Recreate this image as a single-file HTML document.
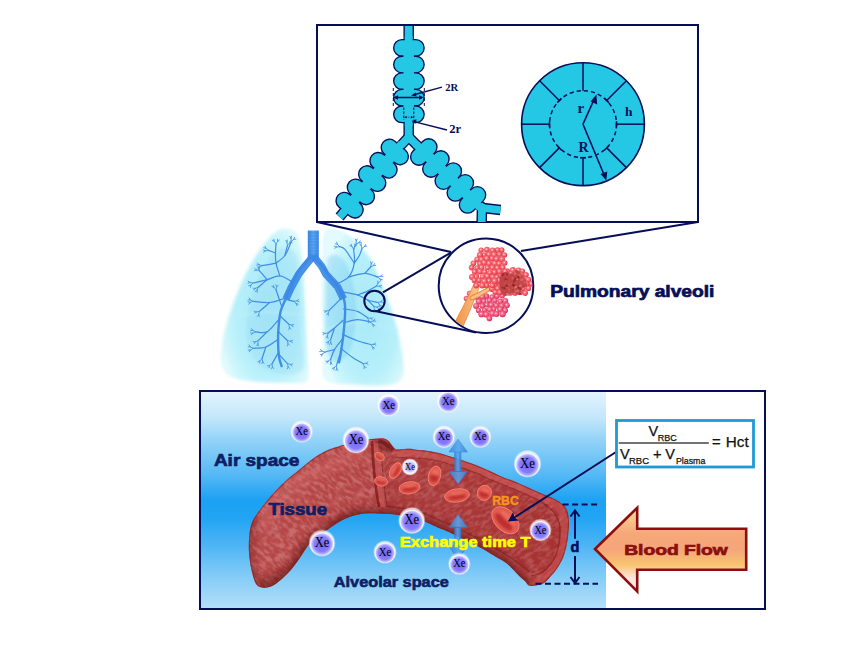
<!DOCTYPE html>
<html><head><meta charset="utf-8"><style>
html,body{margin:0;padding:0;background:#fff;overflow:hidden;}
svg{display:block;}
</style></head><body>
<svg width="865" height="649" viewBox="0 0 865 649">
<defs>
<linearGradient id="bg" x1="0" y1="392" x2="0" y2="608" gradientUnits="userSpaceOnUse">
<stop offset="0" stop-color="#e2f4fe"/>
<stop offset="0.12" stop-color="#c2e7fb"/>
<stop offset="0.22" stop-color="#94d3f8"/>
<stop offset="0.38" stop-color="#56b9f5"/>
<stop offset="0.5" stop-color="#1ca2f3"/>
<stop offset="0.58" stop-color="#20a4f3"/>
<stop offset="0.7" stop-color="#4ab3f4"/>
<stop offset="0.85" stop-color="#82cbf7"/>
<stop offset="1" stop-color="#b2dffa"/>
</linearGradient>
<radialGradient id="lungfill" cx="0.55" cy="0.55" r="0.6">
<stop offset="0" stop-color="#a8e8f8"/><stop offset="0.65" stop-color="#b6f0fa"/><stop offset="0.9" stop-color="#cff6fc"/><stop offset="1" stop-color="#e4fbfe"/>
</radialGradient>
<linearGradient id="trach" x1="0" x2="1"><stop offset="0" stop-color="#3a86e6"/><stop offset="0.5" stop-color="#5aa6f0"/><stop offset="1" stop-color="#3a86e6"/></linearGradient>
<filter id="vblur" x="-20%" y="-20%" width="140%" height="140%"><feGaussianBlur stdDeviation="3.5"/></filter>
<filter id="rblur" x="-50%" y="-50%" width="200%" height="200%"><feGaussianBlur stdDeviation="0.9"/></filter>
<filter id="lblur" x="-10%" y="-10%" width="120%" height="120%"><feGaussianBlur stdDeviation="1.8"/></filter>
<radialGradient id="alvA" cx="0.42" cy="0.4" r="0.62"><stop offset="0" stop-color="#ffdcdc"/><stop offset="0.33" stop-color="#f87880"/><stop offset="0.72" stop-color="#ee4c5a"/><stop offset="1" stop-color="#d63444"/></radialGradient>
<radialGradient id="alvB" cx="0.42" cy="0.4" r="0.62"><stop offset="0" stop-color="#ffd6e2"/><stop offset="0.33" stop-color="#f47290"/><stop offset="0.72" stop-color="#e9466e"/><stop offset="1" stop-color="#d02e56"/></radialGradient>
<linearGradient id="vessel" x1="250" y1="0" x2="570" y2="0" gradientUnits="userSpaceOnUse">
<stop offset="0" stop-color="#b84848"/><stop offset="0.35" stop-color="#b44242"/><stop offset="1" stop-color="#ae3434"/></linearGradient>
<filter id="tex" x="0" y="0" width="100%" height="100%"><feTurbulence type="fractalNoise" baseFrequency="0.14 0.3" numOctaves="3" seed="4"/><feColorMatrix type="matrix" values="0 0 0 0 1  0 0 0 0 0.78  0 0 0 0 0.78  0 0 0 -3.5 2.1"/><feComposite in2="SourceGraphic" operator="in"/></filter>
<filter id="tex2" x="0" y="0" width="100%" height="100%"><feTurbulence type="fractalNoise" baseFrequency="0.06 0.14" numOctaves="2" seed="11"/><feColorMatrix type="matrix" values="0 0 0 0 0.45  0 0 0 0 0.08  0 0 0 0 0.08  0 0 0 -3.5 2.0"/><feComposite in2="SourceGraphic" operator="in"/></filter>
<linearGradient id="stemg" x1="0" y1="0" x2="1" y2="0"><stop offset="0" stop-color="#f09040"/><stop offset="0.6" stop-color="#f8b070"/><stop offset="1" stop-color="#fcd0a0"/></linearGradient>
<radialGradient id="rbc" cx="0.45" cy="0.4" r="0.65"><stop offset="0" stop-color="#e2463f"/><stop offset="0.7" stop-color="#ee645a"/><stop offset="1" stop-color="#f58a80"/></radialGradient>
<radialGradient id="xe" cx="0.5" cy="0.55" r="0.5"><stop offset="0" stop-color="#7064fa"/><stop offset="0.6" stop-color="#887efb"/><stop offset="0.8" stop-color="#bfb8ff"/><stop offset="0.91" stop-color="#fbf8ff"/><stop offset="1" stop-color="#ffffff" stop-opacity="0.6"/></radialGradient>
<radialGradient id="xew" cx="0.5" cy="0.5" r="0.5"><stop offset="0" stop-color="#a198f6"/><stop offset="0.5" stop-color="#bab3fa"/><stop offset="0.78" stop-color="#f2f0ff"/><stop offset="1" stop-color="#ffffff" stop-opacity="0.85"/></radialGradient>
<linearGradient id="barr" x1="0" x2="1"><stop offset="0" stop-color="#2a78d4"/><stop offset="0.5" stop-color="#5aa8ee"/><stop offset="1" stop-color="#2a78d4"/></linearGradient>
<linearGradient id="barrh" x1="0" x2="1"><stop offset="0" stop-color="#3284dc"/><stop offset="0.5" stop-color="#5aa6ec"/><stop offset="1" stop-color="#3284dc"/></linearGradient>
<linearGradient id="bflow" x1="0" y1="508" x2="0" y2="591" gradientUnits="userSpaceOnUse">
<stop offset="0" stop-color="#fbe0a0"/><stop offset="0.3" stop-color="#f6a878"/><stop offset="0.5" stop-color="#f5a57a"/><stop offset="0.68" stop-color="#f8c470"/><stop offset="0.85" stop-color="#fbe6e0"/><stop offset="1" stop-color="#fce8f2"/></linearGradient>
</defs>
<rect width="865" height="649" fill="#fff"/>
<rect x="317" y="25" width="381" height="197" fill="#fff" stroke="#060e58" stroke-width="2"/>
<path d="M408.7,26.0 L408.7,137.0" fill="none" stroke="#060e58" stroke-width="10.5"/>
<path d="M408.7,137.0 L394.8,152.0 L383.5,165.3 L372.2,178.6 L360.9,191.9 L349.6,205.2 L339.6,217.0" fill="none" stroke="#060e58" stroke-width="10.5"/>
<path d="M408.7,137.0 L423.8,152.0 L435.9,164.0 L448.3,176.1 L460.3,187.9 L472.5,199.9 L483.0,208.0" fill="none" stroke="#060e58" stroke-width="10.5"/>
<path d="M483.0,208.0 L500.5,210.0" fill="none" stroke="#060e58" stroke-width="10.5"/>
<path d="M482.0,207.0 L481.7,222.0" fill="none" stroke="#060e58" stroke-width="10.5"/>
<path d="M408.7,26.0 L408.7,137.0" fill="none" stroke="#24c8e4" stroke-width="7.8"/>
<path d="M408.7,137.0 L394.8,152.0 L383.5,165.3 L372.2,178.6 L360.9,191.9 L349.6,205.2 L339.6,217.0" fill="none" stroke="#24c8e4" stroke-width="7.8"/>
<path d="M408.7,137.0 L423.8,152.0 L435.9,164.0 L448.3,176.1 L460.3,187.9 L472.5,199.9 L483.0,208.0" fill="none" stroke="#24c8e4" stroke-width="7.8"/>
<path d="M483.0,208.0 L500.5,210.0" fill="none" stroke="#24c8e4" stroke-width="7.8"/>
<path d="M482.0,207.0 L481.7,222.0" fill="none" stroke="#24c8e4" stroke-width="7.8"/>
<rect x="-15.25" y="-8.3" width="30.5" height="16.6" rx="8.3" fill="#24c8e4" stroke="#060e58" stroke-width="1.35" transform="translate(408.9,47.900000000000006) rotate(0)"/>
<rect x="-15.25" y="-8.3" width="30.5" height="16.6" rx="8.3" fill="#24c8e4" stroke="#060e58" stroke-width="1.35" transform="translate(408.9,64.5) rotate(0)"/>
<rect x="-15.25" y="-8.3" width="30.5" height="16.6" rx="8.3" fill="#24c8e4" stroke="#060e58" stroke-width="1.35" transform="translate(408.9,81.10000000000001) rotate(0)"/>
<rect x="-15.25" y="-8.3" width="30.5" height="16.6" rx="8.3" fill="#24c8e4" stroke="#060e58" stroke-width="1.35" transform="translate(408.9,97.7) rotate(0)"/>
<rect x="-15.25" y="-8.3" width="30.5" height="16.6" rx="8.3" fill="#24c8e4" stroke="#060e58" stroke-width="1.35" transform="translate(408.9,114.3) rotate(0)"/>
<rect x="-15.25" y="-8.3" width="30.5" height="16.6" rx="8.3" fill="#24c8e4" stroke="#060e58" stroke-width="1.35" transform="translate(394.8,152) rotate(40.4)"/>
<rect x="-15.25" y="-8.3" width="30.5" height="16.6" rx="8.3" fill="#24c8e4" stroke="#060e58" stroke-width="1.35" transform="translate(383.5,165.3) rotate(40.4)"/>
<rect x="-15.25" y="-8.3" width="30.5" height="16.6" rx="8.3" fill="#24c8e4" stroke="#060e58" stroke-width="1.35" transform="translate(372.2,178.6) rotate(40.4)"/>
<rect x="-15.25" y="-8.3" width="30.5" height="16.6" rx="8.3" fill="#24c8e4" stroke="#060e58" stroke-width="1.35" transform="translate(360.9,191.9) rotate(40.4)"/>
<rect x="-15.25" y="-8.3" width="30.5" height="16.6" rx="8.3" fill="#24c8e4" stroke="#060e58" stroke-width="1.35" transform="translate(349.6,205.2) rotate(40.4)"/>
<rect x="-15.25" y="-8.3" width="30.5" height="16.6" rx="8.3" fill="#24c8e4" stroke="#060e58" stroke-width="1.35" transform="translate(423.8,152) rotate(-45)"/>
<rect x="-15.25" y="-8.3" width="30.5" height="16.6" rx="8.3" fill="#24c8e4" stroke="#060e58" stroke-width="1.35" transform="translate(435.9,164) rotate(-45)"/>
<rect x="-15.25" y="-8.3" width="30.5" height="16.6" rx="8.3" fill="#24c8e4" stroke="#060e58" stroke-width="1.35" transform="translate(448.3,176.1) rotate(-45)"/>
<rect x="-15.25" y="-8.3" width="30.5" height="16.6" rx="8.3" fill="#24c8e4" stroke="#060e58" stroke-width="1.35" transform="translate(460.3,187.9) rotate(-45)"/>
<rect x="-15.25" y="-8.3" width="30.5" height="16.6" rx="8.3" fill="#24c8e4" stroke="#060e58" stroke-width="1.35" transform="translate(472.5,199.9) rotate(-45)"/>
<path d="M408.7,41.5 L408.7,120.8" stroke="#24c8e4" stroke-width="10.5" fill="none"/>
<path d="M408.7,36 L408.7,126" stroke="#24c8e4" stroke-width="7.8" fill="none"/>
<path d="M390.6,157.0 L383.5,165.3 L372.2,178.6 L360.9,191.9 L353.8,200.2" stroke="#24c8e4" stroke-width="10.5" fill="none"/>
<path d="M401.9,143.6 L383.5,165.3 L372.2,178.6 L360.9,191.9 L342.5,213.6" stroke="#24c8e4" stroke-width="7.8" fill="none"/>
<path d="M428.4,156.6 L435.9,164.0 L448.3,176.1 L460.3,187.9 L467.9,195.3" stroke="#24c8e4" stroke-width="10.5" fill="none"/>
<path d="M416.0,144.3 L435.9,164.0 L448.3,176.1 L460.3,187.9 L480.3,207.6" stroke="#24c8e4" stroke-width="7.8" fill="none"/>
<line x1="393.3" y1="88" x2="393.3" y2="108" stroke="#060e58" stroke-width="1" stroke-dasharray="3 2"/>
<line x1="424.3" y1="88" x2="424.3" y2="108" stroke="#060e58" stroke-width="1" stroke-dasharray="3 2"/>
<line x1="395" y1="97.5" x2="422" y2="97.5" stroke="#060e58" stroke-width="1.5"/>
<path d="M393.5,97.5 L398,95.3 L398,99.7Z M423.5,97.5 L419,95.3 L419,99.7Z" fill="#060e58"/>
<line x1="403.8" y1="107.5" x2="403.8" y2="120" stroke="#060e58" stroke-width="1" stroke-dasharray="2.5 1.5"/>
<line x1="413.8" y1="107.5" x2="413.8" y2="120" stroke="#060e58" stroke-width="1" stroke-dasharray="2.5 1.5"/>
<line x1="406" y1="117.2" x2="411.5" y2="117.2" stroke="#060e58" stroke-width="0.7" stroke-dasharray="1.2 1"/>
<path d="M404.3,117.2 L406.6,115.9 L406.6,118.5Z M413.3,117.2 L411,115.9 L411,118.5Z" fill="#060e58"/>
<line x1="442" y1="87.2" x2="413" y2="95" stroke="#060e58" stroke-width="1.3"/>
<path d="M411,95.6 L415.8,92.6 L416.6,96.4Z" fill="#060e58"/>
<line x1="447" y1="130" x2="414" y2="121.6" stroke="#060e58" stroke-width="1.3"/>
<path d="M411.5,121 L416.5,119.2 L415.8,123.6Z" fill="#060e58"/>
<text x="445.3" y="91.2" font-family="Liberation Serif" font-weight="bold" font-size="10.6" fill="#060e58">2R</text>
<text x="449.3" y="132.6" font-family="Liberation Serif" font-weight="bold" font-size="12.6" fill="#060e58">2r</text>
<circle cx="583" cy="124.2" r="61.4" fill="#24c8e4" stroke="#060e58" stroke-width="1.6"/>
<circle cx="583" cy="124.2" r="33.5" fill="none" stroke="#060e58" stroke-width="1.5" stroke-dasharray="4.2 3"/>
<line x1="616.5" y1="124.2" x2="644.4" y2="124.2" stroke="#060e58" stroke-width="1.5"/>
<line x1="616.5" y1="127.2" x2="616.5" y2="121.2" stroke="#060e58" stroke-width="1.5"/>
<line x1="606.7" y1="147.9" x2="626.4" y2="167.6" stroke="#060e58" stroke-width="1.5"/>
<line x1="604.6" y1="150.0" x2="608.8" y2="145.8" stroke="#060e58" stroke-width="1.5"/>
<line x1="583.0" y1="157.7" x2="583.0" y2="185.6" stroke="#060e58" stroke-width="1.5"/>
<line x1="580.0" y1="157.7" x2="586.0" y2="157.7" stroke="#060e58" stroke-width="1.5"/>
<line x1="559.3" y1="147.9" x2="539.6" y2="167.6" stroke="#060e58" stroke-width="1.5"/>
<line x1="557.2" y1="145.8" x2="561.4" y2="150.0" stroke="#060e58" stroke-width="1.5"/>
<line x1="549.5" y1="124.2" x2="521.6" y2="124.2" stroke="#060e58" stroke-width="1.5"/>
<line x1="549.5" y1="121.2" x2="549.5" y2="127.2" stroke="#060e58" stroke-width="1.5"/>
<line x1="559.3" y1="100.5" x2="539.6" y2="80.8" stroke="#060e58" stroke-width="1.5"/>
<line x1="561.4" y1="98.4" x2="557.2" y2="102.6" stroke="#060e58" stroke-width="1.5"/>
<line x1="583.0" y1="90.7" x2="583.0" y2="62.8" stroke="#060e58" stroke-width="1.5"/>
<line x1="606.7" y1="100.5" x2="626.4" y2="80.8" stroke="#060e58" stroke-width="1.5"/>
<line x1="608.8" y1="102.6" x2="604.6" y2="98.4" stroke="#060e58" stroke-width="1.5"/>
<path d="M583,124.2 L594.5,98.5" stroke="#060e58" stroke-width="1.6" fill="none"/>
<path d="M596.4,94.6 L590.6,101.6 L597.2,104.4 Z" fill="#060e58"/>
<path d="M583,124.2 L604.6,176" stroke="#060e58" stroke-width="1.6" fill="none"/>
<path d="M606.3,180.5 L600.5,174 L607.3,171.6 Z" fill="#060e58"/>
<text x="577.5" y="112.7" font-family="Liberation Serif" font-weight="bold" font-size="15" fill="#060e58">r</text>
<text x="578.6" y="151.5" font-family="Liberation Serif" font-weight="bold" font-size="14" fill="#060e58">R</text>
<text x="625" y="116.2" font-family="Liberation Serif" font-weight="bold" font-size="13.5" fill="#060e58">h</text>
<g filter="url(#lblur)">
<path d="M285.0,229.5 C287.8,229.9 292.9,229.9 295.5,233.5 C298.1,237.1 299.3,243.9 300.6,251.2 C301.9,258.5 302.5,268.7 303.2,277.4 C303.9,286.1 304.2,294.9 304.6,303.6 C305.0,312.3 305.2,321.1 305.6,329.8 C306.0,338.5 306.7,349.0 307.0,356.0 C307.3,363.0 307.8,367.5 307.5,371.7 C307.2,375.9 308.4,379.2 305.5,381.0 C302.6,382.8 298.9,382.5 290.0,382.5 C281.1,382.5 262.0,382.2 252.0,381.0 C242.0,379.8 234.9,378.2 230.0,375.0 C225.1,371.8 223.7,367.4 222.5,362.0 C221.3,356.6 221.9,350.4 223.0,342.9 C224.1,335.3 226.1,326.3 229.0,316.7 C231.9,307.1 236.4,294.8 240.6,285.2 C244.8,275.6 249.3,266.8 254.0,259.0 C258.7,251.2 264.9,243.2 269.0,238.5 C273.1,233.8 275.8,232.5 278.5,231.0 C281.2,229.5 282.2,229.1 285.0,229.5Z" fill="url(#lungfill)" stroke="#d4f7fc" stroke-width="1.6"/>
<path d="M329.0,229.5 C331.5,228.8 336.2,230.5 340.0,232.0 C343.8,233.5 347.2,234.4 352.0,238.5 C356.8,242.6 364.4,250.2 368.8,256.5 C373.2,262.8 375.2,269.0 378.5,276.5 C381.8,284.0 385.5,292.9 388.5,301.3 C391.5,309.7 394.3,318.2 396.5,326.7 C398.7,335.1 400.4,344.4 401.5,352.0 C402.6,359.6 403.5,367.7 403.0,372.5 C402.5,377.3 401.7,378.9 398.5,381.0 C395.3,383.1 391.7,384.5 383.6,385.0 C375.5,385.5 359.6,385.1 350.0,384.0 C340.4,382.9 330.2,383.8 326.0,378.5 C321.8,373.2 325.0,364.9 324.5,352.0 C324.0,339.1 323.1,318.2 323.0,301.3 C322.9,284.4 323.5,261.3 323.8,250.4 C324.1,239.5 323.9,239.5 324.8,236.0 C325.7,232.5 326.5,230.2 329.0,229.5Z" fill="url(#lungfill)" stroke="#d4f7fc" stroke-width="1.6"/>
<path d="M284.0,248.0 C289.0,248.3 295.3,248.3 298.0,262.0 C300.7,275.7 299.2,312.3 300.0,330.0 C300.8,347.7 306.3,360.7 303.0,368.0 C299.7,375.3 287.8,375.0 280.0,374.0 C272.2,373.0 261.7,369.3 256.0,362.0 C250.3,354.7 246.3,342.0 246.0,330.0 C245.7,318.0 250.3,301.7 254.0,290.0 C257.7,278.3 263.0,267.0 268.0,260.0 C273.0,253.0 279.0,247.7 284.0,248.0Z" fill="#8ed4f4" opacity="0.28"/>
<path d="M328.0,258.0 C331.2,251.7 340.3,255.0 345.0,262.0 C349.7,269.0 354.8,286.2 356.0,300.0 C357.2,313.8 355.0,334.7 352.0,345.0 C349.0,355.3 342.2,361.2 338.0,362.0 C333.8,362.8 329.0,360.3 327.0,350.0 C325.0,339.7 325.8,315.3 326.0,300.0 C326.2,284.7 324.8,264.3 328.0,258.0Z" fill="#7ccaf2" opacity="0.38"/>
<path d="M228.0,318.0 C234.2,317.0 252.3,312.5 265.0,312.0 C277.7,311.5 297.5,314.5 304.0,315.0" stroke="#c6f0fb" stroke-width="1.5" fill="none" opacity="0.7"/>
<path d="M323.0,330.0 C329.2,328.7 347.3,322.0 360.0,322.0 C372.7,322.0 392.5,328.7 399.0,330.0" stroke="#c6f0fb" stroke-width="1.5" fill="none" opacity="0.7"/>
</g>
<rect x="307.8" y="230.5" width="11" height="29" fill="url(#trach)"/>
<line x1="307.8" y1="233" x2="318.8" y2="233" stroke="#2f7fe0" stroke-width="0.8" opacity="0.5"/>
<line x1="307.8" y1="236" x2="318.8" y2="236" stroke="#2f7fe0" stroke-width="0.8" opacity="0.5"/>
<line x1="307.8" y1="239" x2="318.8" y2="239" stroke="#2f7fe0" stroke-width="0.8" opacity="0.5"/>
<line x1="307.8" y1="242" x2="318.8" y2="242" stroke="#2f7fe0" stroke-width="0.8" opacity="0.5"/>
<line x1="307.8" y1="245" x2="318.8" y2="245" stroke="#2f7fe0" stroke-width="0.8" opacity="0.5"/>
<line x1="307.8" y1="248" x2="318.8" y2="248" stroke="#2f7fe0" stroke-width="0.8" opacity="0.5"/>
<line x1="307.8" y1="251" x2="318.8" y2="251" stroke="#2f7fe0" stroke-width="0.8" opacity="0.5"/>
<line x1="307.8" y1="254" x2="318.8" y2="254" stroke="#2f7fe0" stroke-width="0.8" opacity="0.5"/>
<line x1="307.8" y1="257" x2="318.8" y2="257" stroke="#2f7fe0" stroke-width="0.8" opacity="0.5"/>
<path d="M312.4,256.0 C310.8,257.6 305.4,262.6 302.7,265.7 C300.0,268.8 298.5,270.8 296.4,274.6 C294.2,278.4 291.9,284.3 290.0,288.6 C288.1,292.8 286.7,296.2 285.2,300.0 C283.6,303.8 281.7,307.0 280.6,311.4 C279.5,315.9 279.0,321.6 278.6,326.7 C278.1,331.8 278.0,336.9 278.1,342.0 C278.1,347.0 278.5,353.2 279.1,357.2 C279.7,361.2 281.2,364.6 281.6,366.1" fill="none" stroke="#3f8fe4" stroke-width="2.4" stroke-linecap="round" stroke-linejoin="round"/>
<path d="M291.3,281.4 C289.4,280.5 283.9,276.1 279.8,275.9 C275.8,275.6 271.6,278.5 267.1,279.7 C262.7,280.9 255.5,282.4 253.1,283.0" fill="none" stroke="#3f8fe4" stroke-width="1.2" stroke-linecap="round" stroke-linejoin="round"/>
<path d="M279.8,275.9 C279.2,273.7 276.7,267.0 276.0,263.1 C275.3,259.3 275.5,256.1 275.5,253.0 C275.5,249.8 275.9,245.6 276.0,244.1" fill="none" stroke="#3f8fe4" stroke-width="1.2" stroke-linecap="round" stroke-linejoin="round"/>
<path d="M276.0,263.1 C277.5,261.9 282.4,259.1 284.9,255.5 C287.5,251.9 290.2,243.9 291.3,241.5" fill="none" stroke="#3f8fe4" stroke-width="1.2" stroke-linecap="round" stroke-linejoin="round"/>
<path d="M275.5,253.0 C274.3,252.5 269.6,250.8 268.4,250.4" fill="none" stroke="#3f8fe4" stroke-width="1.2" stroke-linecap="round" stroke-linejoin="round"/>
<path d="M267.1,279.7 C265.9,278.2 260.8,272.2 259.5,270.8" fill="none" stroke="#3f8fe4" stroke-width="1.2" stroke-linecap="round" stroke-linejoin="round"/>
<path d="M267.1,279.7 C265.6,280.9 259.7,286.0 258.2,287.3" fill="none" stroke="#3f8fe4" stroke-width="1.2" stroke-linecap="round" stroke-linejoin="round"/>
<path d="M276.0,263.1 C273.7,263.6 264.4,265.3 262.0,265.7" fill="none" stroke="#3f8fe4" stroke-width="1.2" stroke-linecap="round" stroke-linejoin="round"/>
<path d="M284.9,255.5 C285.3,253.8 287.0,247.0 287.5,245.3" fill="none" stroke="#3f8fe4" stroke-width="1.2" stroke-linecap="round" stroke-linejoin="round"/>
<path d="M283.6,298.7 C281.3,299.4 274.8,302.1 269.7,302.5 C264.6,303.0 255.9,301.5 253.1,301.3" fill="none" stroke="#3f8fe4" stroke-width="1.2" stroke-linecap="round" stroke-linejoin="round"/>
<path d="M269.7,302.5 C268.0,304.0 261.2,310.0 259.5,311.4" fill="none" stroke="#3f8fe4" stroke-width="1.2" stroke-linecap="round" stroke-linejoin="round"/>
<path d="M283.6,298.7 C285.3,299.2 292.1,300.9 293.8,301.3" fill="none" stroke="#3f8fe4" stroke-width="1.2" stroke-linecap="round" stroke-linejoin="round"/>
<path d="M281.6,306.4 C280.7,303.6 277.0,292.6 276.0,289.8" fill="none" stroke="#3f8fe4" stroke-width="1.2" stroke-linecap="round" stroke-linejoin="round"/>
<path d="M279.1,319.1 C277.1,321.2 271.0,329.7 267.1,331.8 C263.2,333.9 257.6,331.8 255.7,331.8" fill="none" stroke="#3f8fe4" stroke-width="1.2" stroke-linecap="round" stroke-linejoin="round"/>
<path d="M267.1,331.8 C265.6,333.3 259.7,339.2 258.2,340.7" fill="none" stroke="#3f8fe4" stroke-width="1.2" stroke-linecap="round" stroke-linejoin="round"/>
<path d="M278.6,331.8 C280.0,333.3 286.0,339.2 287.5,340.7" fill="none" stroke="#3f8fe4" stroke-width="1.2" stroke-linecap="round" stroke-linejoin="round"/>
<path d="M278.1,339.4 C276.0,340.7 270.0,345.6 265.9,347.0 C261.7,348.5 255.3,348.1 253.1,348.3" fill="none" stroke="#3f8fe4" stroke-width="1.2" stroke-linecap="round" stroke-linejoin="round"/>
<path d="M265.9,347.0 C265.2,349.0 262.7,356.6 262.0,358.5" fill="none" stroke="#3f8fe4" stroke-width="1.2" stroke-linecap="round" stroke-linejoin="round"/>
<path d="M278.6,352.1 C277.5,354.0 273.3,361.7 272.2,363.6" fill="none" stroke="#3f8fe4" stroke-width="1.2" stroke-linecap="round" stroke-linejoin="round"/>
<path d="M279.1,354.7 C280.5,356.2 286.1,362.1 287.5,363.6" fill="none" stroke="#3f8fe4" stroke-width="1.2" stroke-linecap="round" stroke-linejoin="round"/>
<path d="M280.6,316.5 C282.0,317.8 287.4,322.9 288.7,324.2" fill="none" stroke="#3f8fe4" stroke-width="1.2" stroke-linecap="round" stroke-linejoin="round"/>
<path d="M312.4,256.0 C313.9,257.6 319.2,262.6 321.8,265.7 C324.4,268.8 325.4,271.0 328.1,274.6 C330.9,278.2 335.7,283.2 338.3,287.3 C340.9,291.4 342.8,295.4 343.9,299.0 C345.1,302.6 345.1,304.3 345.2,308.9 C345.2,313.5 344.7,320.8 344.2,326.7 C343.7,332.6 343.0,338.6 342.1,344.5 C341.3,350.4 339.6,359.3 339.1,362.3" fill="none" stroke="#3f8fe4" stroke-width="2.4" stroke-linecap="round" stroke-linejoin="round"/>
<path d="M334.5,284.8 C336.8,283.5 345.2,280.7 348.5,277.1 C351.8,273.5 353.5,267.8 354.3,263.1 C355.2,258.5 353.7,251.5 353.6,249.2" fill="none" stroke="#3f8fe4" stroke-width="1.2" stroke-linecap="round" stroke-linejoin="round"/>
<path d="M354.3,263.1 C352.7,260.8 347.1,251.9 344.7,249.2 C342.2,246.4 340.4,247.0 339.6,246.6" fill="none" stroke="#3f8fe4" stroke-width="1.2" stroke-linecap="round" stroke-linejoin="round"/>
<path d="M354.3,263.1 C355.2,261.9 358.1,258.0 359.4,255.5 C360.7,253.1 361.5,249.6 362.0,248.4" fill="none" stroke="#3f8fe4" stroke-width="1.2" stroke-linecap="round" stroke-linejoin="round"/>
<path d="M348.5,277.1 C351.2,276.5 360.1,273.3 365.0,273.3 C369.9,273.3 375.6,276.5 377.7,277.1" fill="none" stroke="#3f8fe4" stroke-width="1.2" stroke-linecap="round" stroke-linejoin="round"/>
<path d="M365.0,273.3 C365.9,272.2 369.7,268.0 370.6,267.0" fill="none" stroke="#3f8fe4" stroke-width="1.2" stroke-linecap="round" stroke-linejoin="round"/>
<path d="M353.6,249.2 C354.0,248.3 355.7,244.9 356.1,244.1" fill="none" stroke="#3f8fe4" stroke-width="1.2" stroke-linecap="round" stroke-linejoin="round"/>
<path d="M340.9,291.6 C343.6,292.2 352.9,293.5 357.4,294.9 C361.8,296.3 364.2,298.7 367.6,300.0 C370.9,301.3 376.0,302.1 377.7,302.5" fill="none" stroke="#3f8fe4" stroke-width="1.2" stroke-linecap="round" stroke-linejoin="round"/>
<path d="M357.4,294.9 C359.1,294.3 364.4,292.6 367.6,291.1 C370.7,289.6 375.0,286.9 376.5,286.0" fill="none" stroke="#3f8fe4" stroke-width="1.2" stroke-linecap="round" stroke-linejoin="round"/>
<path d="M367.6,300.0 C368.6,301.1 372.9,305.3 373.9,306.4" fill="none" stroke="#3f8fe4" stroke-width="1.2" stroke-linecap="round" stroke-linejoin="round"/>
<path d="M340.9,298.7 C339.8,299.8 336.4,303.2 334.5,305.1 C332.6,307.0 330.3,309.3 329.4,310.2" fill="none" stroke="#3f8fe4" stroke-width="1.2" stroke-linecap="round" stroke-linejoin="round"/>
<path d="M343.1,320.3 C341.7,321.6 337.0,325.9 334.5,328.0 C332.0,330.1 329.2,332.2 328.1,333.1" fill="none" stroke="#3f8fe4" stroke-width="1.2" stroke-linecap="round" stroke-linejoin="round"/>
<path d="M334.5,328.0 C333.9,329.9 331.3,337.5 330.7,339.4" fill="none" stroke="#3f8fe4" stroke-width="1.2" stroke-linecap="round" stroke-linejoin="round"/>
<path d="M343.4,322.9 C345.7,322.3 352.9,319.7 357.4,319.6 C361.9,319.5 368.4,321.7 370.6,322.1" fill="none" stroke="#3f8fe4" stroke-width="1.2" stroke-linecap="round" stroke-linejoin="round"/>
<path d="M342.1,339.4 C340.9,341.1 336.4,346.3 334.5,349.6 C332.6,352.9 331.3,357.6 330.7,359.2" fill="none" stroke="#3f8fe4" stroke-width="1.2" stroke-linecap="round" stroke-linejoin="round"/>
<path d="M334.5,349.6 C332.9,350.0 326.5,351.7 324.8,352.1" fill="none" stroke="#3f8fe4" stroke-width="1.2" stroke-linecap="round" stroke-linejoin="round"/>
<path d="M342.4,334.3 C344.9,335.4 352.7,339.0 357.4,340.7 C362.1,342.4 368.4,343.9 370.6,344.5" fill="none" stroke="#3f8fe4" stroke-width="1.2" stroke-linecap="round" stroke-linejoin="round"/>
<path d="M340.6,348.3 C342.6,349.8 348.6,354.7 352.3,357.2 C356.0,359.8 361.2,362.5 363.0,363.6" fill="none" stroke="#3f8fe4" stroke-width="1.2" stroke-linecap="round" stroke-linejoin="round"/>
<path d="M339.6,355.2 C339.1,356.9 337.0,363.7 336.5,365.4" fill="none" stroke="#3f8fe4" stroke-width="1.2" stroke-linecap="round" stroke-linejoin="round"/>
<path d="M343.4,308.9 C345.7,309.3 353.4,310.0 357.4,311.4 C361.4,312.9 365.9,316.7 367.6,317.8" fill="none" stroke="#3f8fe4" stroke-width="1.2" stroke-linecap="round" stroke-linejoin="round"/>
<path d="M253.1,283.0 L250.9,285.2 M250.9,285.2 L250.5,287.4 M250.9,285.2 L248.7,285.8 M253.1,283.0 L250.0,282.5 M250.0,282.5 L247.9,283.3 M250.0,282.5 L248.1,281.3 M276.0,244.1 L274.3,241.4 M274.3,241.4 L272.3,240.3 M274.3,241.4 L273.8,239.2 M276.0,244.1 L277.7,241.3 M277.7,241.3 L277.5,239.1 M277.7,241.3 L279.4,240.0 M291.3,241.5 L291.0,238.3 M291.0,238.3 L289.9,236.4 M291.0,238.3 L291.6,236.2 M291.3,241.5 L293.7,239.4 M293.7,239.4 L294.5,237.3 M293.7,239.4 L295.9,239.2 M268.4,250.4 L265.2,250.9 M265.2,250.9 L263.5,252.2 M265.2,250.9 L263.3,249.8 M268.4,250.4 L266.0,248.3 M266.0,248.3 L263.8,247.7 M266.0,248.3 L265.0,246.3 M259.5,270.8 L256.4,270.0 M256.4,270.0 L254.3,270.7 M256.4,270.0 L254.7,268.5 M259.5,270.8 L259.1,267.6 M259.1,267.6 L257.7,265.9 M259.1,267.6 L260.0,265.5 M258.2,287.3 L257.0,290.2 M257.0,290.2 L257.3,292.5 M257.0,290.2 L255.2,291.6 M258.2,287.3 L255.2,288.4 M255.2,288.4 L253.9,290.2 M255.2,288.4 L253.0,288.2 M262.0,265.7 L259.4,267.6 M259.4,267.6 L258.5,269.6 M259.4,267.6 L257.2,268.0 M262.0,265.7 L259.0,264.6 M259.0,264.6 L256.8,265.0 M259.0,264.6 L257.4,263.0 M287.5,245.3 L286.9,242.2 M286.9,242.2 L285.7,240.3 M286.9,242.2 L287.5,240.0 M287.5,245.3 L289.7,243.0 M289.7,243.0 L290.3,240.9 M289.7,243.0 L291.9,242.6 M253.1,301.3 L250.1,302.4 M250.1,302.4 L248.8,304.2 M250.1,302.4 L248.0,301.7 M253.1,301.3 L250.3,299.9 M250.3,299.9 L248.0,300.0 M250.3,299.9 L249.1,297.9 M259.5,311.4 L258.7,314.6 M258.7,314.6 L259.3,316.7 M258.7,314.6 L257.4,316.4 M259.5,311.4 L256.3,312.0 M256.3,312.0 L254.5,313.2 M256.3,312.0 L254.2,311.2 M293.8,301.3 L297.0,300.8 M297.0,300.8 L298.7,299.4 M297.0,300.8 L299.0,301.7 M293.8,301.3 L296.1,303.5 M296.1,303.5 L298.3,304.2 M296.1,303.5 L296.8,305.6 M276.0,289.8 L273.9,287.4 M273.9,287.4 L271.9,286.4 M273.9,287.4 L273.4,285.3 M276.0,289.8 L276.7,286.7 M276.7,286.7 L275.8,284.7 M276.7,286.7 L278.3,285.1 M255.7,331.8 L252.8,333.2 M252.8,333.2 L251.3,334.8 M252.8,333.2 L250.6,332.9 M255.7,331.8 L252.8,330.4 M252.8,330.4 L250.6,330.7 M252.8,330.4 L251.5,328.6 M258.2,340.7 L257.8,343.9 M257.8,343.9 L258.6,345.9 M257.8,343.9 L256.6,345.8 M258.2,340.7 L255.3,341.9 M255.3,341.9 L254.1,343.9 M255.3,341.9 L253.1,341.5 M287.5,340.7 L290.6,341.2 M290.6,341.2 L292.7,340.4 M290.6,341.2 L292.4,342.6 M287.5,340.7 L288.0,343.8 M288.0,343.8 L289.6,345.4 M288.0,343.8 L287.3,346.0 M253.1,348.3 L250.5,350.1 M250.5,350.1 L249.2,351.9 M250.5,350.1 L248.2,350.1 M253.1,348.3 L250.3,346.8 M250.3,346.8 L248.1,346.9 M250.3,346.8 L249.1,344.9 M262.0,358.5 L262.7,361.6 M262.7,361.6 L264.0,363.5 M262.7,361.6 L261.8,363.7 M262.0,358.5 L259.9,360.9 M259.9,360.9 L259.7,363.1 M259.9,360.9 L257.9,361.8 M272.2,363.6 L272.4,366.8 M272.4,366.8 L273.7,368.6 M272.4,366.8 L271.5,368.8 M272.2,363.6 L269.6,365.5 M269.6,365.5 L269.0,367.6 M269.6,365.5 L267.4,365.8 M287.5,363.6 L290.5,364.4 M290.5,364.4 L292.7,364.0 M290.5,364.4 L291.9,366.2 M287.5,363.6 L288.1,366.7 M288.1,366.7 L289.5,368.4 M288.1,366.7 L287.4,368.8 M288.7,324.2 L291.8,325.1 M291.8,325.1 L293.9,324.4 M291.8,325.1 L293.1,326.9 M288.7,324.2 L289.5,327.3 M289.5,327.3 L290.8,329.1 M289.5,327.3 L288.7,329.4 M353.6,249.2 L351.8,246.5 M351.8,246.5 L349.8,245.5 M351.8,246.5 L351.3,244.3 M353.6,249.2 L355.1,246.3 M355.1,246.3 L354.7,244.1 M355.1,246.3 L356.8,244.9 M339.6,246.6 L336.4,247.0 M336.4,247.0 L334.7,248.5 M336.4,247.0 L334.3,246.3 M339.6,246.6 L337.4,244.3 M337.4,244.3 L335.2,243.9 M337.4,244.3 L336.7,242.1 M362.0,248.4 L361.1,245.3 M361.1,245.3 L359.5,243.8 M361.1,245.3 L361.3,243.1 M362.0,248.4 L364.6,246.5 M364.6,246.5 L365.6,244.6 M364.6,246.5 L366.8,246.1 M377.7,277.1 L380.8,276.2 M380.8,276.2 L382.3,274.6 M380.8,276.2 L383.0,276.6 M377.7,277.1 L380.2,279.1 M380.2,279.1 L382.4,279.8 M380.2,279.1 L380.8,281.3 M370.6,267.0 L371.3,263.8 M371.3,263.8 L370.6,261.7 M371.3,263.8 L372.5,262.0 M370.6,267.0 L373.5,265.5 M373.5,265.5 L374.6,263.6 M373.5,265.5 L375.7,265.4 M356.1,244.1 L356.3,240.9 M356.3,240.9 L355.2,239.0 M356.3,240.9 L357.2,238.8 M356.1,244.1 L359.0,242.6 M359.0,242.6 L360.2,240.8 M359.0,242.6 L361.2,242.4 M377.7,302.5 L380.8,301.8 M380.8,301.8 L382.3,300.0 M380.8,301.8 L383.0,302.4 M377.7,302.5 L379.7,305.0 M379.7,305.0 L381.7,306.1 M379.7,305.0 L380.0,307.3 M376.5,286.0 L377.9,283.2 M377.9,283.2 L377.8,280.9 M377.9,283.2 L379.7,281.8 M376.5,286.0 L379.6,286.2 M379.6,286.2 L381.7,285.3 M379.6,286.2 L381.4,287.6 M373.9,306.4 L377.0,307.1 M377.0,307.1 L379.1,306.3 M377.0,307.1 L378.5,308.8 M373.9,306.4 L374.4,309.5 M374.4,309.5 L375.5,311.5 M374.4,309.5 L373.4,311.5 M329.4,310.2 L328.2,313.1 M328.2,313.1 L328.3,315.4 M328.2,313.1 L326.6,314.7 M329.4,310.2 L326.3,311.1 M326.3,311.1 L324.8,312.7 M326.3,311.1 L324.1,310.9 M328.1,333.1 L327.3,336.2 M327.3,336.2 L328.0,338.3 M327.3,336.2 L325.9,337.9 M328.1,333.1 L325.0,333.4 M325.0,333.4 L323.0,334.5 M325.0,333.4 L322.9,332.6 M330.7,339.4 L330.8,342.6 M330.8,342.6 L331.7,344.7 M330.8,342.6 L329.6,344.5 M330.7,339.4 L328.4,341.7 M328.4,341.7 L328.0,343.9 M328.4,341.7 L326.3,342.5 M370.6,322.1 L373.6,320.9 M373.6,320.9 L374.8,319.0 M373.6,320.9 L375.8,321.2 M370.6,322.1 L372.8,324.4 M372.8,324.4 L374.9,325.3 M372.8,324.4 L373.4,326.6 M330.7,359.2 L330.9,362.4 M330.9,362.4 L332.0,364.4 M330.9,362.4 L330.3,364.6 M330.7,359.2 L328.1,361.2 M328.1,361.2 L327.0,363.1 M328.1,361.2 L325.9,361.3 M324.8,352.1 L322.4,354.1 M322.4,354.1 L321.5,356.2 M322.4,354.1 L320.2,354.8 M324.8,352.1 L321.8,351.1 M321.8,351.1 L319.6,351.6 M321.8,351.1 L320.5,349.3 M370.6,344.5 L373.8,344.3 M373.8,344.3 L375.6,343.0 M373.8,344.3 L375.9,345.1 M370.6,344.5 L372.6,347.0 M372.6,347.0 L374.5,348.1 M372.6,347.0 L373.1,349.2 M363.0,363.6 L366.2,363.3 M366.2,363.3 L367.9,361.9 M366.2,363.3 L368.1,364.5 M363.0,363.6 L364.3,366.5 M364.3,366.5 L366.3,367.6 M364.3,366.5 L364.0,368.7 M336.5,365.4 L336.7,368.5 M336.7,368.5 L337.8,370.5 M336.7,368.5 L335.9,370.6 M336.5,365.4 L334.2,367.6 M334.2,367.6 L333.8,369.8 M334.2,367.6 L332.2,368.5 M367.6,317.8 L370.7,318.4 M370.7,318.4 L372.9,317.9 M370.7,318.4 L372.4,319.9 M367.6,317.8 L368.7,320.8 M368.7,320.8 L370.5,322.2 M368.7,320.8 L368.2,323.0" fill="none" stroke="#4a98e6" stroke-width="0.9" stroke-linecap="round"/>
<path d="M313.3,256 L305,266 L298.6,274.3 L291,288 L286,299" fill="none" stroke="#3b88e6" stroke-width="7.4" stroke-linejoin="round" opacity="0.92"/>
<path d="M313.3,256 L321.5,266 L326,274.3 L337.5,286.7 L343.5,299" fill="none" stroke="#3b88e6" stroke-width="7.4" stroke-linejoin="round" opacity="0.92"/>
<g stroke="#060e58" stroke-width="2" fill="none"><line x1="317" y1="222" x2="451" y2="252"/><line x1="698" y1="222" x2="521" y2="251"/><line x1="383" y1="292.4" x2="451" y2="252.5"/><line x1="375" y1="311" x2="476" y2="332.6"/></g>
<circle cx="374.5" cy="301" r="10.2" fill="none" stroke="#060e58" stroke-width="2"/>
<circle cx="486" cy="285.7" r="47.3" fill="#fff" stroke="#060e58" stroke-width="2"/>
<clipPath id="aclip"><circle cx="486" cy="285.7" r="46.4"/></clipPath><g clip-path="url(#aclip)">
<circle cx="502.2" cy="295.8" r="2.7" fill="url(#alvB)"/>
<circle cx="496.9" cy="296.1" r="2.9" fill="url(#alvB)"/>
<circle cx="486.1" cy="296.4" r="3.2" fill="url(#alvB)"/>
<circle cx="482.3" cy="296.8" r="3.2" fill="url(#alvB)"/>
<circle cx="476.7" cy="296.8" r="3.1" fill="url(#alvB)"/>
<circle cx="492.1" cy="297.0" r="2.7" fill="url(#alvB)"/>
<circle cx="489.5" cy="300.4" r="2.6" fill="url(#alvB)"/>
<circle cx="494.9" cy="300.5" r="2.7" fill="url(#alvB)"/>
<circle cx="505.2" cy="300.9" r="3.0" fill="url(#alvB)"/>
<circle cx="483.7" cy="301.3" r="2.7" fill="url(#alvB)"/>
<circle cx="500.2" cy="301.4" r="2.8" fill="url(#alvB)"/>
<circle cx="478.8" cy="301.5" r="3.1" fill="url(#alvB)"/>
<circle cx="486.6" cy="304.8" r="2.7" fill="url(#alvB)"/>
<circle cx="491.2" cy="305.0" r="3.0" fill="url(#alvB)"/>
<circle cx="506.9" cy="305.3" r="3.0" fill="url(#alvB)"/>
<circle cx="496.3" cy="305.6" r="2.8" fill="url(#alvB)"/>
<circle cx="501.8" cy="305.8" r="2.9" fill="url(#alvB)"/>
<circle cx="482.3" cy="305.9" r="2.8" fill="url(#alvB)"/>
<circle cx="476.1" cy="305.9" r="3.0" fill="url(#alvB)"/>
<circle cx="493.7" cy="309.1" r="2.7" fill="url(#alvB)"/>
<circle cx="500.1" cy="309.3" r="3.1" fill="url(#alvB)"/>
<circle cx="489.7" cy="309.6" r="2.9" fill="url(#alvB)"/>
<circle cx="484.5" cy="310.2" r="2.6" fill="url(#alvB)"/>
<circle cx="505.2" cy="310.4" r="2.8" fill="url(#alvB)"/>
<circle cx="478.5" cy="310.4" r="2.6" fill="url(#alvB)"/>
<circle cx="492.4" cy="313.5" r="3.2" fill="url(#alvB)"/>
<circle cx="502.6" cy="314.0" r="3.2" fill="url(#alvB)"/>
<circle cx="496.4" cy="314.0" r="3.0" fill="url(#alvB)"/>
<circle cx="481.4" cy="314.2" r="3.1" fill="url(#alvB)"/>
<circle cx="486.2" cy="314.5" r="3.1" fill="url(#alvB)"/>
<circle cx="489.4" cy="318.4" r="2.8" fill="url(#alvB)"/>
<circle cx="466.5" cy="298.5" r="2.8" fill="url(#alvA)"/><circle cx="469.5" cy="293.5" r="2.7" fill="url(#alvA)"/>
<path d="M454.0,324.0 L461.3,310.0 L467.5,298.0 L472.6,287.0 L476.3,278.0 L481.0,279.0 L478.5,289.5 L474.0,300.5 L469.0,312.5 L463.0,326.5Z" fill="url(#stemg)" stroke="#e8873c" stroke-width="0.8" stroke-linejoin="round"/>
<path d="M472.0,298.0 C473.3,297.3 477.3,295.4 480.0,294.0 C482.7,292.6 485.3,291.2 488.0,289.5 C490.7,287.8 494.7,284.9 496.0,284.0" stroke="#ec8f45" stroke-width="5" fill="none" stroke-linecap="round"/>
<path d="M472.0,298.0 C473.3,297.3 477.3,295.4 480.0,294.0 C482.7,292.6 485.3,291.2 488.0,289.5 C490.7,287.8 494.7,284.9 496.0,284.0" stroke="#f9c08a" stroke-width="2.6" fill="none" stroke-linecap="round"/>
<circle cx="497.2" cy="269.8" r="2.7" fill="url(#alvA)"/>
<circle cx="512.8" cy="270.1" r="3.0" fill="url(#alvA)"/>
<circle cx="518.5" cy="270.4" r="2.9" fill="url(#alvA)"/>
<circle cx="522.5" cy="271.0" r="2.6" fill="url(#alvA)"/>
<circle cx="507.2" cy="271.1" r="2.9" fill="url(#alvA)"/>
<circle cx="503.0" cy="271.1" r="2.7" fill="url(#alvA)"/>
<circle cx="505.7" cy="274.3" r="2.9" fill="url(#alvA)"/>
<circle cx="521.3" cy="274.8" r="2.9" fill="url(#alvA)"/>
<circle cx="526.0" cy="274.8" r="2.8" fill="url(#alvA)"/>
<circle cx="495.1" cy="275.3" r="2.7" fill="url(#alvA)"/>
<circle cx="509.9" cy="275.4" r="2.8" fill="url(#alvA)"/>
<circle cx="500.5" cy="275.5" r="3.0" fill="url(#alvA)"/>
<circle cx="515.4" cy="275.6" r="3.1" fill="url(#alvA)"/>
<circle cx="492.4" cy="278.8" r="2.8" fill="url(#alvA)"/>
<circle cx="502.7" cy="279.1" r="2.7" fill="url(#alvA)"/>
<circle cx="518.3" cy="279.5" r="3.1" fill="url(#alvA)"/>
<circle cx="523.0" cy="279.6" r="2.8" fill="url(#alvA)"/>
<circle cx="528.2" cy="279.7" r="3.0" fill="url(#alvA)"/>
<circle cx="507.5" cy="279.7" r="3.1" fill="url(#alvA)"/>
<circle cx="512.8" cy="279.7" r="3.1" fill="url(#alvA)"/>
<circle cx="498.3" cy="280.0" r="3.0" fill="url(#alvA)"/>
<circle cx="500.3" cy="283.1" r="2.9" fill="url(#alvA)"/>
<circle cx="521.1" cy="283.5" r="3.1" fill="url(#alvA)"/>
<circle cx="531.4" cy="283.8" r="2.9" fill="url(#alvA)"/>
<circle cx="515.3" cy="283.9" r="3.0" fill="url(#alvA)"/>
<circle cx="510.8" cy="284.0" r="3.1" fill="url(#alvA)"/>
<circle cx="505.0" cy="284.0" r="2.9" fill="url(#alvA)"/>
<circle cx="526.2" cy="284.0" r="3.2" fill="url(#alvA)"/>
<circle cx="494.8" cy="284.4" r="3.0" fill="url(#alvA)"/>
<circle cx="518.4" cy="287.5" r="2.7" fill="url(#alvA)"/>
<circle cx="503.1" cy="287.7" r="3.1" fill="url(#alvA)"/>
<circle cx="528.5" cy="288.4" r="2.6" fill="url(#alvA)"/>
<circle cx="523.1" cy="288.4" r="2.7" fill="url(#alvA)"/>
<circle cx="508.0" cy="288.4" r="2.9" fill="url(#alvA)"/>
<circle cx="497.6" cy="288.5" r="3.0" fill="url(#alvA)"/>
<circle cx="513.1" cy="288.6" r="3.0" fill="url(#alvA)"/>
<circle cx="492.1" cy="288.7" r="3.2" fill="url(#alvA)"/>
<circle cx="504.9" cy="292.0" r="2.9" fill="url(#alvA)"/>
<circle cx="495.1" cy="292.2" r="2.6" fill="url(#alvA)"/>
<circle cx="520.5" cy="292.3" r="2.8" fill="url(#alvA)"/>
<circle cx="499.7" cy="292.4" r="2.7" fill="url(#alvA)"/>
<circle cx="510.2" cy="292.8" r="3.0" fill="url(#alvA)"/>
<circle cx="525.2" cy="293.1" r="2.8" fill="url(#alvA)"/>
<circle cx="515.1" cy="293.2" r="2.6" fill="url(#alvA)"/>
<circle cx="486.9" cy="249.7" r="2.9" fill="url(#alvA)"/>
<circle cx="501.6" cy="250.1" r="2.9" fill="url(#alvA)"/>
<circle cx="481.1" cy="250.1" r="2.7" fill="url(#alvA)"/>
<circle cx="497.5" cy="250.1" r="2.8" fill="url(#alvA)"/>
<circle cx="492.6" cy="250.4" r="2.9" fill="url(#alvA)"/>
<circle cx="499.4" cy="254.3" r="2.7" fill="url(#alvA)"/>
<circle cx="488.9" cy="254.5" r="3.0" fill="url(#alvA)"/>
<circle cx="494.0" cy="254.6" r="3.1" fill="url(#alvA)"/>
<circle cx="484.1" cy="254.9" r="2.6" fill="url(#alvA)"/>
<circle cx="479.8" cy="255.0" r="3.0" fill="url(#alvA)"/>
<circle cx="504.4" cy="255.0" r="2.8" fill="url(#alvA)"/>
<circle cx="491.9" cy="258.5" r="2.9" fill="url(#alvA)"/>
<circle cx="486.7" cy="258.6" r="3.2" fill="url(#alvA)"/>
<circle cx="496.5" cy="259.0" r="2.9" fill="url(#alvA)"/>
<circle cx="501.9" cy="259.2" r="3.1" fill="url(#alvA)"/>
<circle cx="477.3" cy="259.4" r="3.0" fill="url(#alvA)"/>
<circle cx="481.4" cy="259.5" r="2.9" fill="url(#alvA)"/>
<circle cx="484.0" cy="262.8" r="3.2" fill="url(#alvA)"/>
<circle cx="504.7" cy="263.0" r="2.8" fill="url(#alvA)"/>
<circle cx="473.4" cy="263.3" r="2.8" fill="url(#alvA)"/>
<circle cx="494.7" cy="263.4" r="3.0" fill="url(#alvA)"/>
<circle cx="489.1" cy="263.4" r="2.9" fill="url(#alvA)"/>
<circle cx="499.1" cy="263.6" r="2.8" fill="url(#alvA)"/>
<circle cx="479.8" cy="263.6" r="2.7" fill="url(#alvA)"/>
<circle cx="502.7" cy="267.5" r="2.8" fill="url(#alvA)"/>
<circle cx="492.3" cy="267.6" r="2.9" fill="url(#alvA)"/>
<circle cx="481.4" cy="267.6" r="3.1" fill="url(#alvA)"/>
<circle cx="471.6" cy="267.6" r="2.8" fill="url(#alvA)"/>
<circle cx="487.4" cy="267.7" r="2.6" fill="url(#alvA)"/>
<circle cx="477.0" cy="267.8" r="2.6" fill="url(#alvA)"/>
<circle cx="497.3" cy="267.9" r="2.9" fill="url(#alvA)"/>
<circle cx="479.7" cy="271.5" r="3.1" fill="url(#alvA)"/>
<circle cx="505.1" cy="271.5" r="2.7" fill="url(#alvA)"/>
<circle cx="499.4" cy="271.6" r="3.0" fill="url(#alvA)"/>
<circle cx="474.6" cy="271.7" r="2.8" fill="url(#alvA)"/>
<circle cx="484.6" cy="272.0" r="2.8" fill="url(#alvA)"/>
<circle cx="494.5" cy="272.2" r="2.9" fill="url(#alvA)"/>
<circle cx="489.8" cy="272.7" r="2.7" fill="url(#alvA)"/>
<circle cx="487.3" cy="276.2" r="3.0" fill="url(#alvA)"/>
<circle cx="502.3" cy="276.4" r="2.7" fill="url(#alvA)"/>
<circle cx="482.4" cy="276.8" r="2.6" fill="url(#alvA)"/>
<circle cx="492.6" cy="276.9" r="2.7" fill="url(#alvA)"/>
<circle cx="476.0" cy="276.9" r="3.2" fill="url(#alvA)"/>
<circle cx="472.0" cy="277.0" r="3.0" fill="url(#alvA)"/>
<circle cx="496.8" cy="277.1" r="2.7" fill="url(#alvA)"/>
<circle cx="474.3" cy="280.4" r="2.7" fill="url(#alvA)"/>
<circle cx="499.4" cy="280.4" r="3.0" fill="url(#alvA)"/>
<circle cx="479.0" cy="280.4" r="2.6" fill="url(#alvA)"/>
<circle cx="488.9" cy="280.9" r="2.8" fill="url(#alvA)"/>
<circle cx="494.6" cy="281.0" r="3.2" fill="url(#alvA)"/>
<circle cx="484.4" cy="281.3" r="3.1" fill="url(#alvA)"/>
<circle cx="492.3" cy="285.5" r="2.7" fill="url(#alvA)"/>
<circle cx="486.5" cy="285.5" r="2.8" fill="url(#alvA)"/>
<circle cx="482.3" cy="285.5" r="3.0" fill="url(#alvA)"/>
<circle cx="476.2" cy="285.6" r="2.9" fill="url(#alvA)"/>
<path d="M500.0,277.0 C500.8,274.2 503.2,272.5 505.0,272.0 C506.8,271.5 509.0,274.3 511.0,274.0 C513.0,273.7 515.0,269.7 517.0,270.0 C519.0,270.3 521.3,273.5 523.0,276.0 C524.7,278.5 527.2,282.8 527.0,285.0 C526.8,287.2 523.2,287.3 522.0,289.0 C520.8,290.7 521.7,294.3 520.0,295.0 C518.3,295.7 514.5,292.8 512.0,293.0 C509.5,293.2 507.0,296.7 505.0,296.0 C503.0,295.3 500.8,292.2 500.0,289.0 C499.2,285.8 499.2,279.8 500.0,277.0Z" fill="#bd4244" opacity="0.92"/>
<circle cx="505.8" cy="279.7" r="1.4" fill="#8f2226" opacity="0.85"/>
<circle cx="508.9" cy="284.9" r="0.8" fill="#d8605a" opacity="0.85"/>
<circle cx="513.7" cy="281.8" r="1.1" fill="#a02a2e" opacity="0.85"/>
<circle cx="512.9" cy="278.4" r="1.4" fill="#d8605a" opacity="0.85"/>
<circle cx="514.7" cy="280.0" r="1.5" fill="#a02a2e" opacity="0.85"/>
<circle cx="518.8" cy="275.8" r="0.9" fill="#a02a2e" opacity="0.85"/>
<circle cx="517.1" cy="279.2" r="1.0" fill="#e07a70" opacity="0.85"/>
<circle cx="522.1" cy="279.8" r="1.4" fill="#e07a70" opacity="0.85"/>
<circle cx="517.8" cy="290.9" r="1.1" fill="#e07a70" opacity="0.85"/>
<circle cx="514.0" cy="285.4" r="1.3" fill="#8f2226" opacity="0.85"/>
<circle cx="512.9" cy="289.8" r="0.8" fill="#a02a2e" opacity="0.85"/>
<circle cx="507.7" cy="294.3" r="1.5" fill="#e07a70" opacity="0.85"/>
<circle cx="503.5" cy="274.1" r="1.1" fill="#a02a2e" opacity="0.85"/>
<circle cx="524.2" cy="282.2" r="1.2" fill="#d8605a" opacity="0.85"/>
<circle cx="507.0" cy="274.2" r="1.0" fill="#8f2226" opacity="0.85"/>
<circle cx="509.0" cy="289.6" r="1.1" fill="#d8605a" opacity="0.85"/>
<circle cx="518.9" cy="287.5" r="1.2" fill="#8f2226" opacity="0.85"/>
<circle cx="502.4" cy="287.4" r="1.0" fill="#8f2226" opacity="0.85"/>
<circle cx="520.1" cy="274.2" r="1.0" fill="#d8605a" opacity="0.85"/>
<circle cx="515.7" cy="287.1" r="1.3" fill="#e07a70" opacity="0.85"/>
<circle cx="518.7" cy="274.8" r="1.1" fill="#d8605a" opacity="0.85"/>
<circle cx="520.2" cy="288.7" r="0.9" fill="#8f2226" opacity="0.85"/>
<circle cx="504.1" cy="275.4" r="0.8" fill="#c84848" opacity="0.85"/>
<circle cx="521.6" cy="280.7" r="0.8" fill="#c84848" opacity="0.85"/>
<circle cx="519.8" cy="276.2" r="1.4" fill="#d8605a" opacity="0.85"/>
<circle cx="506.4" cy="280.6" r="1.0" fill="#d8605a" opacity="0.85"/>
<circle cx="504.6" cy="288.1" r="1.3" fill="#8f2226" opacity="0.85"/>
<circle cx="514.4" cy="272.2" r="1.1" fill="#d8605a" opacity="0.85"/>
<circle cx="520.2" cy="286.2" r="1.2" fill="#e07a70" opacity="0.85"/>
<circle cx="513.1" cy="284.9" r="1.1" fill="#8f2226" opacity="0.85"/>
<circle cx="520.0" cy="293.7" r="1.0" fill="#a02a2e" opacity="0.85"/>
<circle cx="515.1" cy="273.6" r="1.2" fill="#e07a70" opacity="0.85"/>
<circle cx="522.8" cy="278.1" r="0.9" fill="#d8605a" opacity="0.85"/>
<circle cx="512.7" cy="288.1" r="1.4" fill="#c84848" opacity="0.85"/>
<circle cx="518.3" cy="277.2" r="1.2" fill="#8f2226" opacity="0.85"/>
<circle cx="507.3" cy="279.7" r="0.9" fill="#a02a2e" opacity="0.85"/>
<circle cx="521.3" cy="279.9" r="1.4" fill="#d8605a" opacity="0.85"/>
<circle cx="521.0" cy="284.9" r="1.2" fill="#d8605a" opacity="0.85"/>
<circle cx="520.1" cy="288.2" r="1.0" fill="#a02a2e" opacity="0.85"/>
<circle cx="515.3" cy="278.4" r="1.0" fill="#8f2226" opacity="0.85"/>
<circle cx="506.6" cy="287.6" r="1.0" fill="#d8605a" opacity="0.85"/>
<circle cx="514.7" cy="289.2" r="0.8" fill="#d8605a" opacity="0.85"/>
<circle cx="509.4" cy="292.4" r="1.6" fill="#c84848" opacity="0.85"/>
<circle cx="502.6" cy="275.2" r="1.1" fill="#8f2226" opacity="0.85"/>
<circle cx="515.9" cy="291.5" r="1.4" fill="#d8605a" opacity="0.85"/>
<circle cx="506.8" cy="285.8" r="1.3" fill="#8f2226" opacity="0.85"/>
</g>
<text x="550.2" y="296.8" font-family="Liberation Sans" font-weight="bold" font-size="16.4" fill="#060e58" stroke="#060e58" stroke-width="0.7" textLength="164.2" lengthAdjust="spacingAndGlyphs">Pulmonary alveoli</text>
<rect x="201" y="392" width="405" height="216" fill="url(#bg)"/>
<clipPath id="vclip"><path d="M258.0,586.0 C254.7,583.7 253.5,577.7 252.0,572.0 C250.5,566.3 249.4,558.3 249.0,552.0 C248.6,545.7 248.9,539.0 249.5,534.0 C250.1,529.0 250.8,525.4 252.3,521.7 C253.8,518.0 256.1,515.3 258.5,511.8 C260.9,508.3 263.9,504.4 267.0,500.7 C270.1,497.0 273.7,493.1 277.0,489.6 C280.3,486.1 283.3,483.0 287.0,479.7 C290.7,476.4 295.2,473.0 299.0,469.9 C302.8,466.8 306.8,463.5 310.0,461.0 C313.2,458.5 315.5,456.8 318.5,455.0 C321.5,453.2 324.9,451.3 328.0,450.0 C331.1,448.7 334.5,447.8 337.0,447.0 C339.5,446.2 340.0,445.8 343.0,445.0 C346.0,444.2 350.8,442.9 355.0,442.0 C359.2,441.1 364.3,439.9 368.5,439.3 C372.7,438.7 377.4,438.6 380.0,438.5 C382.6,438.4 382.6,438.2 384.0,438.5 C385.4,438.8 386.8,439.4 388.1,440.5 C389.5,441.6 390.8,443.9 392.1,445.4 C393.5,446.9 394.2,448.8 396.2,449.4 C398.2,450.0 401.9,449.1 404.3,449.0 C406.7,448.9 408.7,448.7 410.7,448.8 C412.7,448.9 414.1,449.5 416.4,449.8 C418.7,450.1 421.8,450.3 424.5,450.6 C427.2,450.9 429.9,451.3 432.6,451.8 C435.3,452.3 437.9,452.8 440.7,453.5 C443.5,454.2 446.3,455.3 449.3,456.2 C452.3,457.1 455.4,458.0 458.5,459.0 C461.6,460.0 464.7,461.1 467.8,462.2 C470.9,463.3 473.9,464.2 477.0,465.4 C480.1,466.6 483.2,468.2 486.3,469.6 C489.4,471.0 492.4,472.4 495.5,473.8 C498.6,475.2 501.7,476.7 504.8,477.9 C507.9,479.1 510.7,479.9 514.0,481.2 C517.3,482.5 520.9,484.2 524.7,485.9 C528.5,487.6 533.3,489.8 537.0,491.4 C540.7,493.0 543.8,494.4 546.9,495.8 C550.0,497.2 552.8,498.1 555.5,499.5 C558.2,500.9 561.0,502.8 562.9,504.4 C564.8,506.0 565.7,507.4 566.6,509.3 C567.5,511.2 568.0,513.0 568.4,515.5 C568.8,518.0 569.0,520.9 569.0,524.0 C569.0,527.1 568.5,531.3 568.2,534.0 C568.0,536.7 568.0,537.3 567.5,540.0 C567.0,542.7 566.4,546.7 565.5,550.0 C564.6,553.3 563.6,556.7 562.0,560.0 C560.4,563.3 558.0,567.2 556.0,570.0 C554.0,572.8 552.0,574.8 550.0,577.0 C548.0,579.2 546.5,581.6 544.0,583.0 C541.5,584.4 537.5,585.1 535.0,585.5 C532.5,585.9 530.7,586.2 529.0,585.5 C527.3,584.8 526.8,582.8 525.0,581.0 C523.2,579.2 521.3,578.0 518.3,575.0 C515.2,572.0 510.6,566.3 506.7,563.2 C502.8,560.1 499.0,558.5 495.1,556.2 C491.2,553.9 487.5,551.4 483.6,549.3 C479.8,547.2 475.9,545.4 472.0,543.5 C468.1,541.6 464.4,539.6 460.5,537.7 C456.6,535.8 452.8,533.7 448.9,532.0 C445.0,530.3 441.4,529.0 437.3,527.3 C433.2,525.6 428.9,523.2 424.6,521.6 C420.3,520.0 416.5,518.9 411.4,517.7 C406.3,516.5 399.8,515.0 394.0,514.3 C388.2,513.6 382.5,513.4 376.7,513.4 C370.9,513.4 365.2,513.1 359.4,514.3 C353.6,515.4 347.8,517.4 342.0,520.3 C336.2,523.2 329.9,528.0 324.7,531.6 C319.5,535.2 315.1,537.4 310.8,542.0 C306.5,546.6 302.5,554.2 298.7,559.4 C294.9,564.6 292.4,568.6 288.0,573.0 C283.6,577.4 277.0,583.8 272.0,586.0 C267.0,588.2 261.3,588.3 258.0,586.0Z"/></clipPath><clipPath id="rclip"><rect x="386" y="430" width="200" height="170"/></clipPath><clipPath id="lclip"><rect x="240" y="430" width="146" height="170"/></clipPath>
<path d="M258.0,586.0 C254.7,583.7 253.5,577.7 252.0,572.0 C250.5,566.3 249.4,558.3 249.0,552.0 C248.6,545.7 248.9,539.0 249.5,534.0 C250.1,529.0 250.8,525.4 252.3,521.7 C253.8,518.0 256.1,515.3 258.5,511.8 C260.9,508.3 263.9,504.4 267.0,500.7 C270.1,497.0 273.7,493.1 277.0,489.6 C280.3,486.1 283.3,483.0 287.0,479.7 C290.7,476.4 295.2,473.0 299.0,469.9 C302.8,466.8 306.8,463.5 310.0,461.0 C313.2,458.5 315.5,456.8 318.5,455.0 C321.5,453.2 324.9,451.3 328.0,450.0 C331.1,448.7 334.5,447.8 337.0,447.0 C339.5,446.2 340.0,445.8 343.0,445.0 C346.0,444.2 350.8,442.9 355.0,442.0 C359.2,441.1 364.3,439.9 368.5,439.3 C372.7,438.7 377.4,438.6 380.0,438.5 C382.6,438.4 382.6,438.2 384.0,438.5 C385.4,438.8 386.8,439.4 388.1,440.5 C389.5,441.6 390.8,443.9 392.1,445.4 C393.5,446.9 394.2,448.8 396.2,449.4 C398.2,450.0 401.9,449.1 404.3,449.0 C406.7,448.9 408.7,448.7 410.7,448.8 C412.7,448.9 414.1,449.5 416.4,449.8 C418.7,450.1 421.8,450.3 424.5,450.6 C427.2,450.9 429.9,451.3 432.6,451.8 C435.3,452.3 437.9,452.8 440.7,453.5 C443.5,454.2 446.3,455.3 449.3,456.2 C452.3,457.1 455.4,458.0 458.5,459.0 C461.6,460.0 464.7,461.1 467.8,462.2 C470.9,463.3 473.9,464.2 477.0,465.4 C480.1,466.6 483.2,468.2 486.3,469.6 C489.4,471.0 492.4,472.4 495.5,473.8 C498.6,475.2 501.7,476.7 504.8,477.9 C507.9,479.1 510.7,479.9 514.0,481.2 C517.3,482.5 520.9,484.2 524.7,485.9 C528.5,487.6 533.3,489.8 537.0,491.4 C540.7,493.0 543.8,494.4 546.9,495.8 C550.0,497.2 552.8,498.1 555.5,499.5 C558.2,500.9 561.0,502.8 562.9,504.4 C564.8,506.0 565.7,507.4 566.6,509.3 C567.5,511.2 568.0,513.0 568.4,515.5 C568.8,518.0 569.0,520.9 569.0,524.0 C569.0,527.1 568.5,531.3 568.2,534.0 C568.0,536.7 568.0,537.3 567.5,540.0 C567.0,542.7 566.4,546.7 565.5,550.0 C564.6,553.3 563.6,556.7 562.0,560.0 C560.4,563.3 558.0,567.2 556.0,570.0 C554.0,572.8 552.0,574.8 550.0,577.0 C548.0,579.2 546.5,581.6 544.0,583.0 C541.5,584.4 537.5,585.1 535.0,585.5 C532.5,585.9 530.7,586.2 529.0,585.5 C527.3,584.8 526.8,582.8 525.0,581.0 C523.2,579.2 521.3,578.0 518.3,575.0 C515.2,572.0 510.6,566.3 506.7,563.2 C502.8,560.1 499.0,558.5 495.1,556.2 C491.2,553.9 487.5,551.4 483.6,549.3 C479.8,547.2 475.9,545.4 472.0,543.5 C468.1,541.6 464.4,539.6 460.5,537.7 C456.6,535.8 452.8,533.7 448.9,532.0 C445.0,530.3 441.4,529.0 437.3,527.3 C433.2,525.6 428.9,523.2 424.6,521.6 C420.3,520.0 416.5,518.9 411.4,517.7 C406.3,516.5 399.8,515.0 394.0,514.3 C388.2,513.6 382.5,513.4 376.7,513.4 C370.9,513.4 365.2,513.1 359.4,514.3 C353.6,515.4 347.8,517.4 342.0,520.3 C336.2,523.2 329.9,528.0 324.7,531.6 C319.5,535.2 315.1,537.4 310.8,542.0 C306.5,546.6 302.5,554.2 298.7,559.4 C294.9,564.6 292.4,568.6 288.0,573.0 C283.6,577.4 277.0,583.8 272.0,586.0 C267.0,588.2 261.3,588.3 258.0,586.0Z" fill="url(#vessel)"/>
<g clip-path="url(#vclip)">
<rect x="245" y="435" width="330" height="155" fill="#fff" filter="url(#tex2)" opacity="0.35"/>
<g clip-path="url(#lclip)"><g transform="rotate(40 310 510)"><rect x="200" y="380" width="240" height="260" fill="#fff" filter="url(#tex)" opacity="0.24"/></g></g>
<g clip-path="url(#rclip)"><g transform="rotate(-30 470 510)"><rect x="370" y="400" width="240" height="240" fill="#fff" filter="url(#tex)" opacity="0.22"/></g></g>
<path d="M386.0,457.0 C387.7,448.9 389.6,457.2 396.0,457.5 C402.4,457.8 417.1,457.9 424.5,458.6 C431.9,459.3 435.0,460.1 440.7,461.5 C446.4,462.9 452.4,465.0 458.5,467.0 C464.6,469.0 470.8,470.9 477.0,473.4 C483.2,475.9 489.3,479.2 495.5,481.8 C501.7,484.4 507.1,486.3 514.0,489.2 C520.9,492.1 531.3,496.6 537.0,499.4 C542.7,502.2 544.8,503.2 548.0,506.0 C551.2,508.8 554.0,512.7 556.0,516.0 C558.0,519.3 559.4,522.0 560.0,526.0 C560.6,530.0 560.2,535.2 559.5,540.0 C558.8,544.8 557.6,550.8 556.0,555.0 C554.4,559.2 552.5,562.0 550.0,565.0 C547.5,568.0 544.3,571.8 541.0,573.0 C537.7,574.2 533.8,573.7 530.0,572.0 C526.2,570.3 521.9,565.8 518.0,563.0 C514.1,560.2 510.5,557.7 506.7,555.2 C502.9,552.7 499.0,550.5 495.1,548.2 C491.2,545.9 487.5,543.4 483.6,541.3 C479.8,539.2 475.9,537.4 472.0,535.5 C468.1,533.6 464.4,531.6 460.5,529.7 C456.6,527.8 452.8,525.7 448.9,524.0 C445.0,522.3 441.4,521.0 437.3,519.3 C433.2,517.6 428.9,515.2 424.6,513.6 C420.3,512.0 417.8,511.0 411.4,509.7 C405.0,508.4 390.2,514.8 386.0,506.0 C381.8,497.2 384.3,465.1 386.0,457.0Z" fill="#8f2626" opacity="0.22"/>
<path d="M384.0,510.0 C388.6,510.6 404.6,512.4 411.4,513.7 C418.2,515.0 420.3,516.0 424.6,517.6 C428.9,519.2 433.2,521.6 437.3,523.3 C441.4,525.0 445.0,526.3 448.9,528.0 C452.8,529.7 456.6,531.8 460.5,533.7 C464.4,535.6 468.1,537.6 472.0,539.5 C475.9,541.4 479.8,543.2 483.6,545.3 C487.5,547.4 491.2,549.9 495.1,552.2 C499.0,554.5 502.8,556.6 506.7,559.2 C510.6,561.8 515.1,565.2 518.3,568.0 C521.5,570.8 524.7,574.7 526.0,576.0" stroke="#c85656" stroke-width="6" fill="none" opacity="0.5"/>
<path d="M386.0,506.0 C390.2,506.6 405.0,508.4 411.4,509.7 C417.8,511.0 420.3,512.0 424.6,513.6 C428.9,515.2 433.2,517.6 437.3,519.3 C441.4,521.0 445.0,522.3 448.9,524.0 C452.8,525.7 456.6,527.8 460.5,529.7 C464.4,531.6 468.1,533.6 472.0,535.5 C475.9,537.4 479.8,539.2 483.6,541.3 C487.5,543.4 491.2,545.9 495.1,548.2 C499.0,550.5 502.9,552.7 506.7,555.2 C510.5,557.7 514.1,560.2 518.0,563.0 C521.9,565.8 528.0,570.5 530.0,572.0" stroke="#8a2222" stroke-width="1.3" fill="none" opacity="0.5"/>
<path d="M396.0,453.5 C398.3,453.4 405.2,452.6 410.0,452.8 C414.8,453.0 419.4,453.8 424.5,454.6 C429.6,455.4 435.0,456.1 440.7,457.5 C446.4,458.9 452.4,461.0 458.5,463.0 C464.6,465.0 470.8,466.9 477.0,469.4 C483.2,471.9 489.3,475.2 495.5,477.8 C501.7,480.4 507.1,482.3 514.0,485.2 C520.9,488.1 531.0,492.6 537.0,495.4 C543.0,498.2 547.8,500.9 550.0,502.0" stroke="#c65454" stroke-width="5.5" fill="none" opacity="0.7"/>
<path d="M396.0,457.5 C400.8,457.7 417.1,457.9 424.5,458.6 C431.9,459.3 435.0,460.1 440.7,461.5 C446.4,462.9 452.4,465.0 458.5,467.0 C464.6,469.0 470.8,470.9 477.0,473.4 C483.2,475.9 489.3,479.2 495.5,481.8 C501.7,484.4 507.1,486.3 514.0,489.2 C520.9,492.1 531.3,496.6 537.0,499.4 C542.7,502.2 546.2,504.9 548.0,506.0" stroke="#8a2222" stroke-width="1.2" fill="none" opacity="0.55"/>
<path d="M546.0,499.0 C547.8,500.2 554.1,503.3 557.0,506.0 C559.9,508.7 562.2,512.0 563.5,515.0 C564.8,518.0 564.9,519.8 565.0,524.0 C565.1,528.2 564.6,535.7 564.0,540.0 C563.4,544.3 562.5,546.7 561.5,550.0 C560.5,553.3 559.6,556.8 558.0,560.0 C556.4,563.2 554.0,566.5 552.0,569.0 C550.0,571.5 548.0,573.2 546.0,575.0 C544.0,576.8 542.2,578.8 540.0,580.0 C537.8,581.2 534.2,581.7 533.0,582.0" stroke="#c44e4e" stroke-width="7" fill="none" opacity="0.6"/>
<path d="M544.0,504.0 C545.7,505.3 551.4,508.7 554.0,512.0 C556.6,515.3 558.6,519.3 559.5,524.0 C560.4,528.7 560.1,534.8 559.5,540.0 C558.9,545.2 557.6,550.8 556.0,555.0 C554.4,559.2 552.5,562.0 550.0,565.0 C547.5,568.0 544.2,571.2 541.0,573.0 C537.8,574.8 532.7,575.5 531.0,576.0" stroke="#7e1c1c" stroke-width="1.4" fill="none" opacity="0.6"/>
<path d="M374,442 L382,439.5 L390,444 L394,450 L387,453 L379,449Z" fill="#6a1616" opacity="0.55" filter="url(#rblur)"/>
<path d="M372,441 C373,465 375,487 379,507" stroke="#7a1a1a" stroke-width="2.6" fill="none" opacity="0.75"/>
<path d="M378,441 C384,442 389,445 393,450" stroke="#6a1515" stroke-width="4" fill="none" opacity="0.55"/>
<path d="M262.0,588.0 C266.3,585.5 281.9,577.8 288.0,573.0 C294.1,568.2 294.9,564.6 298.7,559.4 C302.5,554.2 306.5,546.6 310.8,542.0 C315.1,537.4 319.5,535.2 324.7,531.6 C329.9,528.0 336.2,523.2 342.0,520.3 C347.8,517.4 353.6,515.4 359.4,514.3 C365.2,513.1 370.9,513.4 376.7,513.4 C382.5,513.4 388.2,513.6 394.0,514.3 C399.8,515.0 406.3,516.5 411.4,517.7 C416.5,518.9 420.3,520.0 424.6,521.6 C428.9,523.2 433.2,525.6 437.3,527.3 C441.4,529.0 445.0,530.3 448.9,532.0 C452.8,533.7 456.6,535.8 460.5,537.7 C464.4,539.6 468.1,541.6 472.0,543.5 C475.9,545.4 479.8,547.2 483.6,549.3 C487.5,551.4 491.2,553.9 495.1,556.2 C499.0,558.5 502.8,560.1 506.7,563.2 C510.6,566.3 514.6,571.0 518.3,575.0 C522.0,579.0 527.2,585.0 529.0,587.0" stroke="#5a0e0e" stroke-width="12" fill="none" opacity="0.6" filter="url(#vblur)"/>
<path d="M262.0,588.0 C260.3,585.3 254.2,578.0 252.0,572.0 C249.8,566.0 249.3,558.3 249.0,552.0 C248.7,545.7 248.8,540.0 250.0,534.0 C251.2,528.0 255.0,519.0 256.0,516.0" stroke="#5e1010" stroke-width="10" fill="none" opacity="0.35" filter="url(#vblur)"/>
<path d="M262.0,530.0 C263.7,526.7 267.3,516.7 272.0,510.0 C276.7,503.3 283.3,496.0 290.0,490.0 C296.7,484.0 303.7,478.8 312.0,474.0 C320.3,469.2 331.0,464.7 340.0,461.0 C349.0,457.3 361.7,453.5 366.0,452.0" stroke="#e07a7a" stroke-width="14" fill="none" opacity="0.28" filter="url(#vblur)"/>
<path d="M258.0,586.0 C254.7,583.7 253.5,577.7 252.0,572.0 C250.5,566.3 249.4,558.3 249.0,552.0 C248.6,545.7 248.9,539.0 249.5,534.0 C250.1,529.0 250.8,525.4 252.3,521.7 C253.8,518.0 256.1,515.3 258.5,511.8 C260.9,508.3 263.9,504.4 267.0,500.7 C270.1,497.0 273.7,493.1 277.0,489.6 C280.3,486.1 283.3,483.0 287.0,479.7 C290.7,476.4 295.2,473.0 299.0,469.9 C302.8,466.8 306.8,463.5 310.0,461.0 C313.2,458.5 315.5,456.8 318.5,455.0 C321.5,453.2 324.9,451.3 328.0,450.0 C331.1,448.7 334.5,447.8 337.0,447.0 C339.5,446.2 340.0,445.8 343.0,445.0 C346.0,444.2 350.8,442.9 355.0,442.0 C359.2,441.1 364.3,439.9 368.5,439.3 C372.7,438.7 377.4,438.6 380.0,438.5 C382.6,438.4 382.6,438.2 384.0,438.5 C385.4,438.8 386.8,439.4 388.1,440.5 C389.5,441.6 390.8,443.9 392.1,445.4 C393.5,446.9 394.2,448.8 396.2,449.4 C398.2,450.0 401.9,449.1 404.3,449.0 C406.7,448.9 408.7,448.7 410.7,448.8 C412.7,448.9 414.1,449.5 416.4,449.8 C418.7,450.1 421.8,450.3 424.5,450.6 C427.2,450.9 429.9,451.3 432.6,451.8 C435.3,452.3 437.9,452.8 440.7,453.5 C443.5,454.2 446.3,455.3 449.3,456.2 C452.3,457.1 455.4,458.0 458.5,459.0 C461.6,460.0 464.7,461.1 467.8,462.2 C470.9,463.3 473.9,464.2 477.0,465.4 C480.1,466.6 483.2,468.2 486.3,469.6 C489.4,471.0 492.4,472.4 495.5,473.8 C498.6,475.2 501.7,476.7 504.8,477.9 C507.9,479.1 510.7,479.9 514.0,481.2 C517.3,482.5 520.9,484.2 524.7,485.9 C528.5,487.6 533.3,489.8 537.0,491.4 C540.7,493.0 543.8,494.4 546.9,495.8 C550.0,497.2 552.8,498.1 555.5,499.5 C558.2,500.9 561.0,502.8 562.9,504.4 C564.8,506.0 565.7,507.4 566.6,509.3 C567.5,511.2 568.0,513.0 568.4,515.5 C568.8,518.0 569.0,520.9 569.0,524.0 C569.0,527.1 568.5,531.3 568.2,534.0 C568.0,536.7 568.0,537.3 567.5,540.0 C567.0,542.7 566.4,546.7 565.5,550.0 C564.6,553.3 563.6,556.7 562.0,560.0 C560.4,563.3 558.0,567.2 556.0,570.0 C554.0,572.8 552.0,574.8 550.0,577.0 C548.0,579.2 546.5,581.6 544.0,583.0 C541.5,584.4 537.5,585.1 535.0,585.5 C532.5,585.9 530.7,586.2 529.0,585.5 C527.3,584.8 526.8,582.8 525.0,581.0 C523.2,579.2 521.3,578.0 518.3,575.0 C515.2,572.0 510.6,566.3 506.7,563.2 C502.8,560.1 499.0,558.5 495.1,556.2 C491.2,553.9 487.5,551.4 483.6,549.3 C479.8,547.2 475.9,545.4 472.0,543.5 C468.1,541.6 464.4,539.6 460.5,537.7 C456.6,535.8 452.8,533.7 448.9,532.0 C445.0,530.3 441.4,529.0 437.3,527.3 C433.2,525.6 428.9,523.2 424.6,521.6 C420.3,520.0 416.5,518.9 411.4,517.7 C406.3,516.5 399.8,515.0 394.0,514.3 C388.2,513.6 382.5,513.4 376.7,513.4 C370.9,513.4 365.2,513.1 359.4,514.3 C353.6,515.4 347.8,517.4 342.0,520.3 C336.2,523.2 329.9,528.0 324.7,531.6 C319.5,535.2 315.1,537.4 310.8,542.0 C306.5,546.6 302.5,554.2 298.7,559.4 C294.9,564.6 292.4,568.6 288.0,573.0 C283.6,577.4 277.0,583.8 272.0,586.0 C267.0,588.2 261.3,588.3 258.0,586.0Z" fill="none" stroke="#8a2020" stroke-width="2.2" opacity="0.6"/>
<path d="M376,443 C377,466 379,488 383,507" stroke="#c65454" stroke-width="4.5" fill="none" opacity="0.7"/>
<path d="M381,447 C382,468 384,488 387,507" stroke="#7a1a1a" stroke-width="1.2" fill="none" opacity="0.5"/>
</g>
<g transform="translate(379.6,456.5) rotate(30)"><ellipse rx="5" ry="3.6" fill="#e35a50" stroke="#f08474" stroke-width="0.9"/><ellipse cx="0" cy="0.79" rx="3.60" ry="1.51" fill="#b42222" opacity="0.75" filter="url(#rblur)"/><ellipse cx="0" cy="-1.15" rx="3.00" ry="1.08" fill="#ee7a6c" opacity="0.6" filter="url(#rblur)"/></g>
<g transform="translate(395.4,470.6) rotate(-60)"><ellipse rx="8.5" ry="5" fill="#e35a50" stroke="#f08474" stroke-width="0.9"/><ellipse cx="0" cy="1.10" rx="6.12" ry="2.10" fill="#b42222" opacity="0.75" filter="url(#rblur)"/><ellipse cx="0" cy="-1.60" rx="5.10" ry="1.50" fill="#ee7a6c" opacity="0.6" filter="url(#rblur)"/></g>
<g transform="translate(381,481.3) rotate(10)"><ellipse rx="6.5" ry="4.6" fill="#e35a50" stroke="#f08474" stroke-width="0.9"/><ellipse cx="0" cy="1.01" rx="4.68" ry="1.93" fill="#b42222" opacity="0.75" filter="url(#rblur)"/><ellipse cx="0" cy="-1.47" rx="3.90" ry="1.38" fill="#ee7a6c" opacity="0.6" filter="url(#rblur)"/></g>
<g transform="translate(409.6,487.8) rotate(-8)"><ellipse rx="10.5" ry="6" fill="#e35a50" stroke="#f08474" stroke-width="0.9"/><ellipse cx="0" cy="1.32" rx="7.56" ry="2.52" fill="#b42222" opacity="0.75" filter="url(#rblur)"/><ellipse cx="0" cy="-1.92" rx="6.30" ry="1.80" fill="#ee7a6c" opacity="0.6" filter="url(#rblur)"/></g>
<g transform="translate(434.6,475.8) rotate(15)"><ellipse rx="6" ry="10" fill="#e35a50" stroke="#f08474" stroke-width="0.9"/><ellipse cx="0" cy="2.20" rx="4.32" ry="4.20" fill="#b42222" opacity="0.75" filter="url(#rblur)"/><ellipse cx="0" cy="-3.20" rx="3.60" ry="3.00" fill="#ee7a6c" opacity="0.6" filter="url(#rblur)"/></g>
<g transform="translate(457,495.5) rotate(-8)"><ellipse rx="12.5" ry="6.6" fill="#e35a50" stroke="#f08474" stroke-width="0.9"/><ellipse cx="0" cy="1.45" rx="9.00" ry="2.77" fill="#b42222" opacity="0.75" filter="url(#rblur)"/><ellipse cx="0" cy="-2.11" rx="7.50" ry="1.98" fill="#ee7a6c" opacity="0.6" filter="url(#rblur)"/></g>
<g transform="translate(484.4,492.9) rotate(20)"><ellipse rx="7" ry="7.6" fill="#e35a50" stroke="#f08474" stroke-width="0.9"/><ellipse cx="0" cy="1.67" rx="5.04" ry="3.19" fill="#b42222" opacity="0.75" filter="url(#rblur)"/><ellipse cx="0" cy="-2.43" rx="4.20" ry="2.28" fill="#ee7a6c" opacity="0.6" filter="url(#rblur)"/></g>
<g transform="translate(505.4,520.3) rotate(45)"><ellipse rx="16" ry="10.5" fill="#e35a50" stroke="#f08474" stroke-width="0.9"/><ellipse cx="0" cy="2.31" rx="11.52" ry="4.41" fill="#b42222" opacity="0.75" filter="url(#rblur)"/><ellipse cx="0" cy="-3.36" rx="9.60" ry="3.15" fill="#ee7a6c" opacity="0.6" filter="url(#rblur)"/></g>
<g opacity="0.85"><rect x="454.3" y="452" width="7" height="19.600000000000023" fill="url(#barr)"/><path d="M458,439.2 L467.5,452 L449,452Z" fill="url(#barrh)" stroke="#3a7fd0" stroke-width="0.6"/><path d="M458,484.3 L467.5,471.6 L449,471.6Z" fill="url(#barrh)" stroke="#5060c0" stroke-width="0.6"/></g>
<g opacity="0.85"><rect x="454.3" y="527.3" width="7" height="18.5" fill="url(#barr)"/><path d="M458,514.6 L467.5,527.3 L449,527.3Z" fill="url(#barrh)" stroke="#3a7fd0" stroke-width="0.6"/><path d="M458,559.7 L467.5,545.8 L449,545.8Z" fill="url(#barrh)" stroke="#5060c0" stroke-width="0.6"/></g>
<circle cx="301.7" cy="431.6" r="11.3" fill="#fff" opacity="0.3"/><circle cx="301.7" cy="431.6" r="10.5" fill="url(#xe)"/><text x="295.6" y="435.2" font-family="Liberation Serif" font-size="12.5" fill="#000" textLength="12.2" lengthAdjust="spacingAndGlyphs">Xe</text>
<circle cx="356" cy="440" r="13.600000000000001" fill="#fff" opacity="0.3"/><circle cx="356" cy="440" r="12.8" fill="url(#xe)"/><text x="348.7" y="443.9" font-family="Liberation Serif" font-size="13.6" fill="#000" textLength="14.7" lengthAdjust="spacingAndGlyphs">Xe</text>
<circle cx="388.7" cy="405" r="11.600000000000001" fill="#fff" opacity="0.3"/><circle cx="388.7" cy="405" r="10.8" fill="url(#xe)"/><text x="382.5" y="408.6" font-family="Liberation Serif" font-size="12.5" fill="#000" textLength="12.5" lengthAdjust="spacingAndGlyphs">Xe</text>
<circle cx="448.3" cy="401" r="11.600000000000001" fill="#fff" opacity="0.3"/><circle cx="448.3" cy="401" r="10.8" fill="url(#xe)"/><text x="442.1" y="404.6" font-family="Liberation Serif" font-size="12.5" fill="#000" textLength="12.5" lengthAdjust="spacingAndGlyphs">Xe</text>
<circle cx="443.9" cy="436.8" r="11.4" fill="#fff" opacity="0.3"/><circle cx="443.9" cy="436.8" r="10.6" fill="url(#xe)"/><text x="437.8" y="440.4" font-family="Liberation Serif" font-size="12.5" fill="#000" textLength="12.3" lengthAdjust="spacingAndGlyphs">Xe</text>
<circle cx="480.3" cy="436.8" r="11.200000000000001" fill="#fff" opacity="0.3"/><circle cx="480.3" cy="436.8" r="10.4" fill="url(#xe)"/><text x="474.3" y="440.4" font-family="Liberation Serif" font-size="12.5" fill="#000" textLength="12.0" lengthAdjust="spacingAndGlyphs">Xe</text>
<circle cx="527.5" cy="463.8" r="13.8" fill="#fff" opacity="0.3"/><circle cx="527.5" cy="463.8" r="13" fill="url(#xe)"/><text x="520.0" y="467.7" font-family="Liberation Serif" font-size="13.6" fill="#000" textLength="14.9" lengthAdjust="spacingAndGlyphs">Xe</text>
<circle cx="411.8" cy="520.5" r="13.5" fill="#fff" opacity="0.3"/><circle cx="411.8" cy="520.5" r="12.7" fill="url(#xe)"/><text x="404.5" y="524.4" font-family="Liberation Serif" font-size="13.6" fill="#000" textLength="14.6" lengthAdjust="spacingAndGlyphs">Xe</text>
<circle cx="322" cy="543" r="13.4" fill="#fff" opacity="0.3"/><circle cx="322" cy="543" r="12.6" fill="url(#xe)"/><text x="314.8" y="546.9" font-family="Liberation Serif" font-size="13.6" fill="#000" textLength="14.5" lengthAdjust="spacingAndGlyphs">Xe</text>
<circle cx="385" cy="552" r="11.600000000000001" fill="#fff" opacity="0.3"/><circle cx="385" cy="552" r="10.8" fill="url(#xe)"/><text x="378.8" y="555.6" font-family="Liberation Serif" font-size="12.5" fill="#000" textLength="12.5" lengthAdjust="spacingAndGlyphs">Xe</text>
<circle cx="459.3" cy="563.8" r="11.200000000000001" fill="#fff" opacity="0.3"/><circle cx="459.3" cy="563.8" r="10.4" fill="url(#xe)"/><text x="453.3" y="567.4" font-family="Liberation Serif" font-size="12.5" fill="#000" textLength="12.0" lengthAdjust="spacingAndGlyphs">Xe</text>
<circle cx="540.4" cy="530" r="11.200000000000001" fill="#fff" opacity="0.3"/><circle cx="540.4" cy="530" r="10.4" fill="url(#xe)"/><text x="534.4" y="533.6" font-family="Liberation Serif" font-size="12.5" fill="#000" textLength="12.0" lengthAdjust="spacingAndGlyphs">Xe</text>
<circle cx="410" cy="467" r="8.5" fill="#fff" opacity="0.3"/><circle cx="410" cy="467" r="7.7" fill="url(#xew)"/><text x="405.1" y="469.8" font-family="Liberation Serif" font-size="9.5" fill="#000" textLength="9.8" lengthAdjust="spacingAndGlyphs">Xe</text>
<text x="213.9" y="465.8" font-family="Liberation Sans" font-weight="bold" font-size="16.8" fill="#0d1f66" stroke="#0d1f66" stroke-width="0.7" textLength="85.5" lengthAdjust="spacingAndGlyphs">Air space</text>
<text x="268.4" y="515.1" font-family="Liberation Sans" font-weight="bold" font-size="17.2" fill="#0d1f66" stroke="#0d1f66" stroke-width="0.7" textLength="58.6" lengthAdjust="spacingAndGlyphs">Tissue</text>
<text x="333.8" y="587.2" font-family="Liberation Sans" font-weight="bold" font-size="14" fill="#0d1f66" stroke="#0d1f66" stroke-width="0.6" textLength="115" lengthAdjust="spacingAndGlyphs">Alveolar space</text>
<text x="399.8" y="547" font-family="Liberation Sans" font-weight="bold" font-size="14" fill="#ffff00" stroke="#ffff00" stroke-width="0.6" textLength="130.8" lengthAdjust="spacingAndGlyphs">Exchange time T</text>
<text x="492.3" y="505.3" font-family="Liberation Sans" font-weight="bold" font-size="12.4" fill="#f7941d" stroke="#f7941d" stroke-width="0.5" textLength="26.4" lengthAdjust="spacingAndGlyphs">RBC</text>
<line x1="616" y1="452" x2="512" y2="519" stroke="#060e58" stroke-width="2"/>
<path d="M507.9,521.4 L513.3,511.8 L514.2,517.2 L519,520.6Z" fill="#060e58"/>
<g stroke="#060e58" stroke-width="2" stroke-dasharray="6 3.5"><line x1="562.6" y1="504.6" x2="598" y2="504.6"/><line x1="535.5" y1="583.8" x2="598" y2="583.8"/></g>
<g stroke="#060e58" stroke-width="2" fill="none"><line x1="575" y1="512" x2="575" y2="538.7"/><line x1="575" y1="556" x2="575" y2="581"/><path d="M570.5,516.5 L575,510.5 L579.5,516.5"/><path d="M570.5,577 L575,583 L579.5,577"/></g>
<text x="575" y="552.2" text-anchor="middle" font-family="Liberation Sans" font-weight="bold" font-size="14.5" fill="#060e58" stroke="#060e58" stroke-width="0.6">d</text>
<rect x="616.5" y="420.5" width="137" height="46.5" fill="#fff" stroke="#1e9ad6" stroke-width="2.8"/>
<line x1="618.7" y1="443" x2="708.8" y2="443" stroke="#444" stroke-width="1.4"/>
<text x="648.6" y="436.3" font-family="Liberation Sans" fill="#111" stroke="#111" stroke-width="0.25" font-size="14.5">V</text><text x="657.7" y="440.8" font-family="Liberation Sans" fill="#111" stroke="#111" stroke-width="0.25" font-size="9" textLength="19" lengthAdjust="spacingAndGlyphs">RBC</text>
<text x="620" y="458.8" font-family="Liberation Sans" fill="#111" stroke="#111" stroke-width="0.25" font-size="14.5">V</text><text x="629" y="464" font-family="Liberation Sans" fill="#111" stroke="#111" stroke-width="0.25" font-size="9" textLength="20" lengthAdjust="spacingAndGlyphs">RBC</text><text x="653" y="458.8" font-family="Liberation Sans" fill="#111" stroke="#111" stroke-width="0.25" font-size="14.8">+</text><text x="665.3" y="458.8" font-family="Liberation Sans" fill="#111" stroke="#111" stroke-width="0.25" font-size="14.5">V</text><text x="675.9" y="464" font-family="Liberation Sans" fill="#111" stroke="#111" stroke-width="0.25" font-size="9" textLength="29.5" lengthAdjust="spacingAndGlyphs">Plasma</text>
<text x="712" y="446.7" font-family="Liberation Sans" fill="#111" stroke="#111" stroke-width="0.25" font-size="14.8">=</text><text x="725.8" y="446.7" font-family="Liberation Sans" fill="#111" stroke="#111" stroke-width="0.25" font-size="14.6" textLength="22.9" lengthAdjust="spacingAndGlyphs">Hct</text>
<path d="M595,549 L637.2,507.8 L637.2,528.8 L746.2,528.8 L746.2,569.7 L637.2,569.7 L637.2,591.3Z" fill="url(#bflow)" stroke="#8c0f0f" stroke-width="2.6" stroke-linejoin="miter"/>
<text x="624.2" y="555" font-family="Liberation Sans" font-weight="bold" font-size="15.2" fill="#8c0f0f" stroke="#8c0f0f" stroke-width="0.7" textLength="103.6" lengthAdjust="spacingAndGlyphs">Blood Flow</text>
<rect x="200" y="391" width="565" height="218" fill="none" stroke="#060e58" stroke-width="2"/>
</svg></body></html>
